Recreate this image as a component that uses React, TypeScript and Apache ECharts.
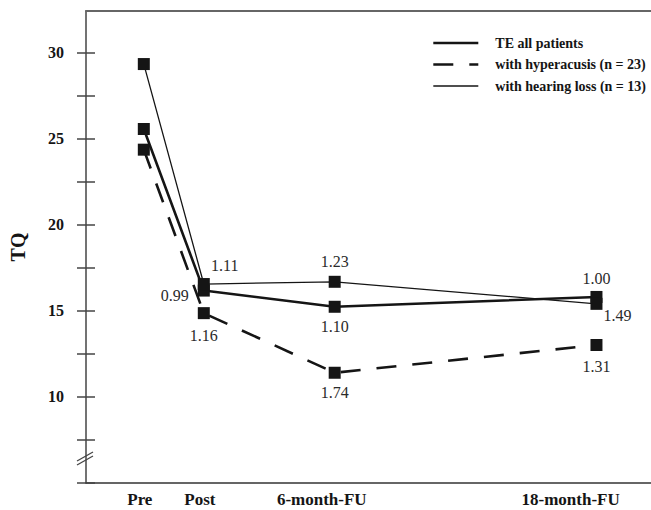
import { useEffect, useRef } from 'react';
import * as echarts from 'echarts';

// ---- data ----
const timepointNames = ['Pre', 'Post', '6-month-FU', '18-month-FU'];
const timepointMonths = [-2.75, 0, 6, 18];
const teAll = [25.55, 16.17, 15.23, 15.8];
const hyperacusis = [24.35, 14.86, 11.4, 13.01];
const hearingLoss = [29.32, 16.55, 16.68, 15.4];
const teAllEffect = ['', '0.99', '1.10', '1.00'];
const hyperEffect = ['', '1.16', '1.74', '1.31'];
const hearingEffect = ['', '1.11', '1.23', '1.49'];
const yTickValues = [5, 7.5, 10, 12.5, 15, 17.5, 20, 22.5, 25, 27.5, 30];
const yLabelValues = [10, 15, 20, 25, 30];
const seriesNames = ['TE all patients', 'with hyperacusis (n = 23)', 'with hearing loss (n = 13)'];

// ---- layout ----
const X_MIN = -5.4;
const X_MAX = 20.5;
const Y_MIN = 5;
const Y_MAX = 32.4;
const GRID = { left: 83, top: 11, right: 0, bottom: 27 };
const PLOT_W = 651 - GRID.left - GRID.right;
const PX_PER_MONTH = PLOT_W / (X_MAX - X_MIN);
const xLabelShiftPx = [-4, -4, -13, -26];
const xLabelValues = timepointMonths.map((m, i) => m + xLabelShiftPx[i] / PX_PER_MONTH);

const FONT = '"Liberation Serif", "Times New Roman", serif';
const INK = '#151515';

const lineStyles: any[] = [
  { color: INK, width: 2.6 },
  { color: INK, width: 2.6, type: [20, 16] },
  { color: INK, width: 1.3 },
];

const teLabelCfg: any[] = [
  null,
  { position: 'left', distance: 9, offset: [0, 5] },
  { position: 'bottom', distance: 6 },
  { position: 'top', distance: 4 },
];
const hyperLabelCfg: any[] = [
  null,
  { position: 'bottom', distance: 8 },
  { position: 'bottom', distance: 6 },
  { position: 'bottom', distance: 7 },
];
const hearingLabelCfg: any[] = [
  null,
  { position: 'top', distance: 5, offset: [21, 0] },
  { position: 'top', distance: 6 },
  { position: 'bottom', distance: 0, offset: [21, -2] },
];

function buildData(values: number[], labels: string[], cfg: any[]) {
  return timepointMonths.map((m, i) => ({
    value: [m, values[i]],
    label: labels[i]
      ? {
          show: true,
          formatter: labels[i],
          fontFamily: FONT,
          fontSize: 16,
          color: '#2a2a2a',
          ...cfg[i],
        }
      : { show: false },
  }));
}

export default function App() {
  const ref = useRef<HTMLDivElement>(null);
  useEffect(() => {
    document.body.style.margin = '0';
    if (!ref.current) return;
    const chart = echarts.init(ref.current, undefined, { renderer: 'svg' });
    const axisLineStyle = { color: '#444', width: 1.5 };
    chart.setOption({
      animation: false,
      backgroundColor: '#fff',
      textStyle: { fontFamily: FONT },
      grid: GRID,
      legend: {
        orient: 'vertical',
        left: 427,
        top: 31,
        itemWidth: 45,
        itemHeight: 14,
        itemGap: 7.5,
        itemStyle: { color: 'transparent', borderWidth: 0 },
        textStyle: { fontFamily: FONT, fontSize: 14, fontWeight: 'bold', color: INK, padding: [0, 0, 0, 12] },
        data: seriesNames.map((n, i) => ({ name: n, lineStyle: lineStyles[i] })),
      },
      xAxis: [
        {
          type: 'value',
          min: X_MIN,
          max: X_MAX,
          position: 'bottom',
          axisLine: { show: true, onZero: false, lineStyle: { color: '#333', width: 1.5 } },
          axisTick: { show: false },
          axisLabel: { show: false },
          splitLine: { show: false },
        },
        {
          type: 'value',
          min: X_MIN,
          max: X_MAX,
          position: 'bottom',
          axisLine: { show: false, onZero: false },
          axisTick: { show: false },
          splitLine: { show: false },
          axisLabel: {
            customValues: xLabelValues,
            margin: 8,
            fontFamily: FONT,
            fontSize: 17,
            fontWeight: 'bold',
            color: INK,
            formatter: (v: number) => {
              let best = 0;
              xLabelValues.forEach((c, i) => {
                if (Math.abs(c - v) < Math.abs(xLabelValues[best] - v)) best = i;
              });
              return timepointNames[best];
            },
          },
        },
        {
          type: 'value',
          min: X_MIN,
          max: X_MAX,
          position: 'top',
          axisLine: { show: true, onZero: false, lineStyle: { color: '#666', width: 2 } },
          axisTick: { show: false },
          axisLabel: { show: false },
          splitLine: { show: false },
        },
      ],
      yAxis: [
        {
          type: 'value',
          min: Y_MIN,
          max: Y_MAX,
          position: 'left',
          name: 'TQ',
          nameLocation: 'middle',
          nameRotate: 90,
          nameGap: 58,
          nameTextStyle: { fontFamily: FONT, fontSize: 20, fontWeight: 'bold', color: INK },
          axisLine: { show: true, onZero: false, lineStyle: axisLineStyle },
          axisTick: { show: true, length: 9, customValues: yTickValues, lineStyle: axisLineStyle },
          axisLabel: {
            customValues: yLabelValues,
            margin: 22,
            fontFamily: FONT,
            fontSize: 16,
            fontWeight: 'bold',
            color: INK,
          },
          splitLine: { show: false },
        },
        {
          type: 'value',
          min: Y_MIN,
          max: Y_MAX,
          position: 'left',
          axisLine: { show: false, onZero: false },
          axisTick: { show: true, inside: true, length: 9, customValues: yTickValues, lineStyle: axisLineStyle },
          axisLabel: { show: false },
          splitLine: { show: false },
        },
      ],
      series: [
        {
          name: seriesNames[0],
          type: 'line',
          xAxisIndex: 0,
          yAxisIndex: 0,
          symbol: 'rect',
          symbolSize: 12,
          itemStyle: { color: INK },
          lineStyle: lineStyles[0],
          data: buildData(teAll, teAllEffect, teLabelCfg),
        },
        {
          name: seriesNames[1],
          type: 'line',
          xAxisIndex: 0,
          yAxisIndex: 0,
          symbol: 'rect',
          symbolSize: 12,
          itemStyle: { color: INK },
          lineStyle: lineStyles[1],
          data: buildData(hyperacusis, hyperEffect, hyperLabelCfg),
        },
        {
          name: seriesNames[2],
          type: 'line',
          xAxisIndex: 0,
          yAxisIndex: 0,
          symbol: 'rect',
          symbolSize: 12,
          itemStyle: { color: INK },
          lineStyle: lineStyles[2],
          data: buildData(hearingLoss, hearingEffect, hearingLabelCfg),
        },
      ],
      graphic: [
        { type: 'line', shape: { x1: 77, y1: 465, x2: 93, y2: 456 }, style: { stroke: '#444', lineWidth: 1.3 } },
        { type: 'line', shape: { x1: 77, y1: 461, x2: 93, y2: 452 }, style: { stroke: '#444', lineWidth: 1.3 } },
      ],
    });
    return () => chart.dispose();
  }, []);
  return <div ref={ref} style={{ width: 651, height: 510 }} />;
}
